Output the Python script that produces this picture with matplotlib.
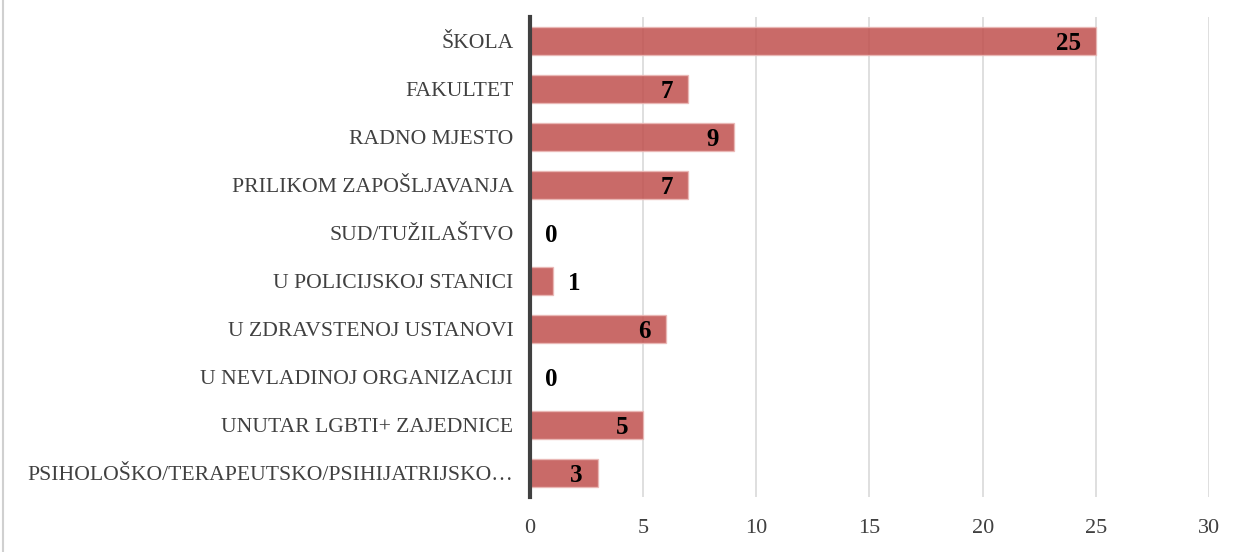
import matplotlib
matplotlib.use("Agg")
import matplotlib.pyplot as plt
from matplotlib.lines import Line2D
import matplotlib.transforms as mtransforms

categories = ["ŠKOLA", "FAKULTET", "RADNO MJESTO", "PRILIKOM ZAPOŠLJAVANJA",
              "SUD/TUŽILAŠTVO", "U POLICIJSKOJ STANICI", "U ZDRAVSTENOJ USTANOVI",
              "U NEVLADINOJ ORGANIZACIJI", "UNUTAR LGBTI+ ZAJEDNICE",
              "PSIHOLOŠKO/TERAPEUTSKO/PSIHIJATRIJSKO…"]
values = [25, 7, 9, 7, 0, 1, 6, 0, 5, 3]
xticks = [0, 5, 10, 15, 20, 25, 30]

plt.rcParams['font.family'] = ['Liberation Serif', 'DejaVu Serif']

fig = plt.figure(figsize=(12.41, 5.52), dpi=100)
ax = fig.add_axes([530/1241, 1-497/552, (1209-530)/1241, (497-17)/552])

y = list(range(len(categories)))
ax.barh(y, values, height=0.58, color='#C0504D', alpha=0.85,
        edgecolor='#EBB8B6', linewidth=1.0, zorder=2)
ax.set_ylim(len(categories)-0.5, -0.5)
ax.set_xlim(0, 30)
ax.set_xticks(xticks)
ax.set_xticklabels([str(t) for t in xticks], fontsize=16, color='#404040')
ax.set_yticks(y)
ax.set_yticklabels(categories, fontsize=15.6, color='#404040')
ax.tick_params(axis='both', length=0)
ax.tick_params(axis='x', pad=16)
ax.tick_params(axis='y', pad=12)

ax.grid(axis='x', color='#D9D9D9', linewidth=1.2, zorder=0)
ax.set_axisbelow(True)
for s in ['top', 'right', 'bottom']:
    ax.spines[s].set_visible(False)
ax.spines['left'].set_color('#404040')
ax.spines['left'].set_linewidth(3)
ax.spines['left'].set_zorder(3)

for yi, v in zip(y, values):
    if v >= 2:
        off = mtransforms.offset_copy(ax.transData, fig=fig, x=-15, y=0, units='dots')
        ax.text(v, yi, str(v), transform=off, ha='right', va='center_baseline',
                fontsize=18, fontweight='bold', color='black', zorder=4)
    else:
        off = mtransforms.offset_copy(ax.transData, fig=fig, x=15, y=0, units='dots')
        ax.text(v, yi, str(v), transform=off, ha='left', va='center_baseline',
                fontsize=18, fontweight='bold', color='black', zorder=4)

fig.add_artist(Line2D([3/1241, 3/1241], [0, 1], transform=fig.transFigure,
                      color='#D0D0D0', linewidth=1.5))

fig.savefig('out.png', dpi=100)
